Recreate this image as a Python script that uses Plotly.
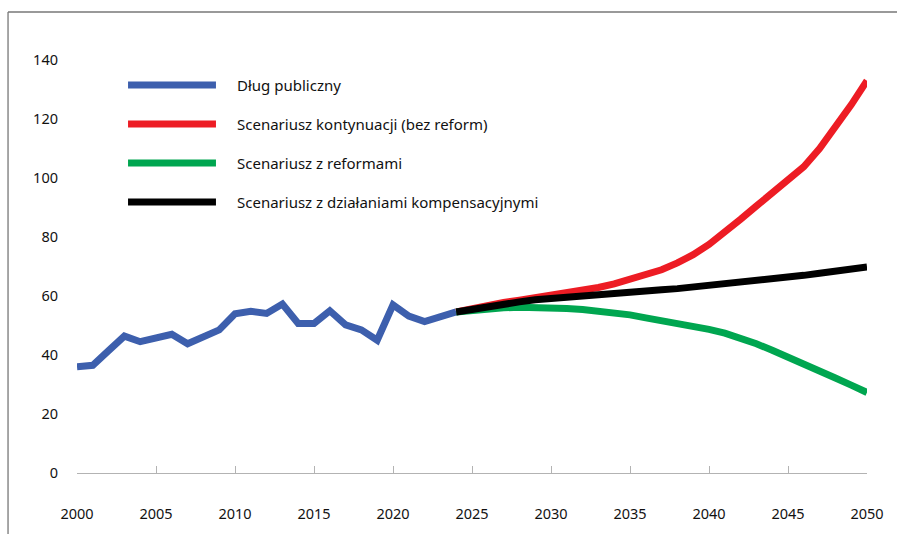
import plotly.graph_objects as go

# Historical public debt (% of GDP)
years_hist = list(range(2000, 2025))
debt_hist = [36.0, 36.5, 41.5, 46.4, 44.5, 46.0, 47.0, 43.8, 46.0, 48.5,
             54.0, 54.8, 54.1, 57.3, 50.7, 50.7, 55.0, 50.2, 48.5, 45.0,
             57.0, 53.2, 51.3, 52.9, 54.6]

# Projection scenarios, 2024-2050
years_proj = list(range(2024, 2051))
scen_no_reform = [54.6, 55.8, 56.9, 57.8, 58.6, 59.4, 60.2, 61.0, 61.9, 62.9,
                  64.1, 65.5, 67.1, 68.9, 71.2, 74.0, 77.5, 81.4, 86.0, 90.5,
                  94.8, 99.0, 103.8, 110.0, 117.0, 124.8, 133.0]
scen_reform = [54.6, 55.2, 55.7, 56.0, 56.2, 56.2, 56.1, 55.8, 55.4, 54.9,
               54.3, 53.6, 52.6, 51.7, 50.8, 49.8, 48.7, 47.4, 45.8, 43.8,
               41.6, 39.4, 37.0, 34.6, 32.2, 29.8, 27.3]
scen_compens = [54.6, 55.6, 56.5, 57.3, 58.0, 58.7, 59.2, 59.7, 60.1, 60.5,
                60.9, 61.3, 61.7, 62.1, 62.5, 63.0, 63.5, 64.0, 64.6, 65.2,
                65.8, 66.4, 67.0, 67.7, 68.4, 69.1, 69.8]

series_names = ["Dług publiczny",
                "Scenariusz kontynuacji (bez reform)",
                "Scenariusz z reformami",
                "Scenariusz z działaniami kompensacyjnymi"]
series_colors = ["#3d5fad", "#ed1c24", "#00a650", "#000000"]

x_ticks = list(range(2000, 2051, 5))
y_ticks = list(range(0, 141, 20))

FONT = "Noto Sans, Open Sans, sans-serif"
TEXT = "#111111"

fig = go.Figure()
data_sets = [(years_hist, debt_hist), (years_proj, scen_no_reform),
             (years_proj, scen_reform), (years_proj, scen_compens)]
for (xs, ys), name, color in zip(data_sets, series_names, series_colors):
    fig.add_trace(go.Scatter(x=xs, y=ys, mode="lines", name=name,
                             line=dict(color=color, width=7),
                             showlegend=False, hoverinfo="x+y+name"))

# Legend drawn as swatches + labels inside the plot area
shapes = []
annotations = []
leg_y = [0.9395, 0.845, 0.7506, 0.6562]
for name, color, yy in zip(series_names, series_colors, leg_y):
    shapes.append(dict(type="line", xref="paper", yref="paper",
                       x0=0.0646, x1=0.1759, y0=yy, y1=yy,
                       line=dict(color=color, width=7)))
    annotations.append(dict(xref="paper", yref="paper", x=0.1995, y=yy,
                            text=name, showarrow=False, xanchor="left",
                            yanchor="middle",
                            font=dict(family=FONT, size=15, color=TEXT)))

# Outer frame (top and left edges)
frame_col = "#777777"
shapes.append(dict(type="line", xref="paper", yref="paper",
                   x0=-0.0873, x1=1.05, y0=1.1162, y1=1.1162,
                   line=dict(color=frame_col, width=1.3)))
shapes.append(dict(type="line", xref="paper", yref="paper",
                   x0=-0.0873, x1=-0.0873, y0=1.1162, y1=-0.16,
                   line=dict(color=frame_col, width=1.3)))

fig.update_layout(
    width=897, height=534,
    margin=dict(l=77, r=30, t=60, b=61),
    paper_bgcolor="white", plot_bgcolor="white",
    font=dict(family=FONT, size=14.5, color=TEXT),
    shapes=shapes, annotations=annotations,
    xaxis=dict(range=[2000, 2050], tickvals=x_ticks,
               ticktext=[str(v) for v in x_ticks],
               showline=True, linecolor="#b3b3b3", linewidth=1.2,
               ticks="inside", ticklen=7, tickcolor="#b3b3b3", tickwidth=1.2,
               ticklabelstandoff=27, showgrid=False, zeroline=False,
               tickfont=dict(family=FONT, size=14.5, color=TEXT)),
    yaxis=dict(range=[0, 140], tickvals=y_ticks,
               showline=False, ticks="", showgrid=False, zeroline=False,
               ticklabelstandoff=18,
               tickfont=dict(family=FONT, size=14.5, color=TEXT)),
)

fig.write_html("out.html")
